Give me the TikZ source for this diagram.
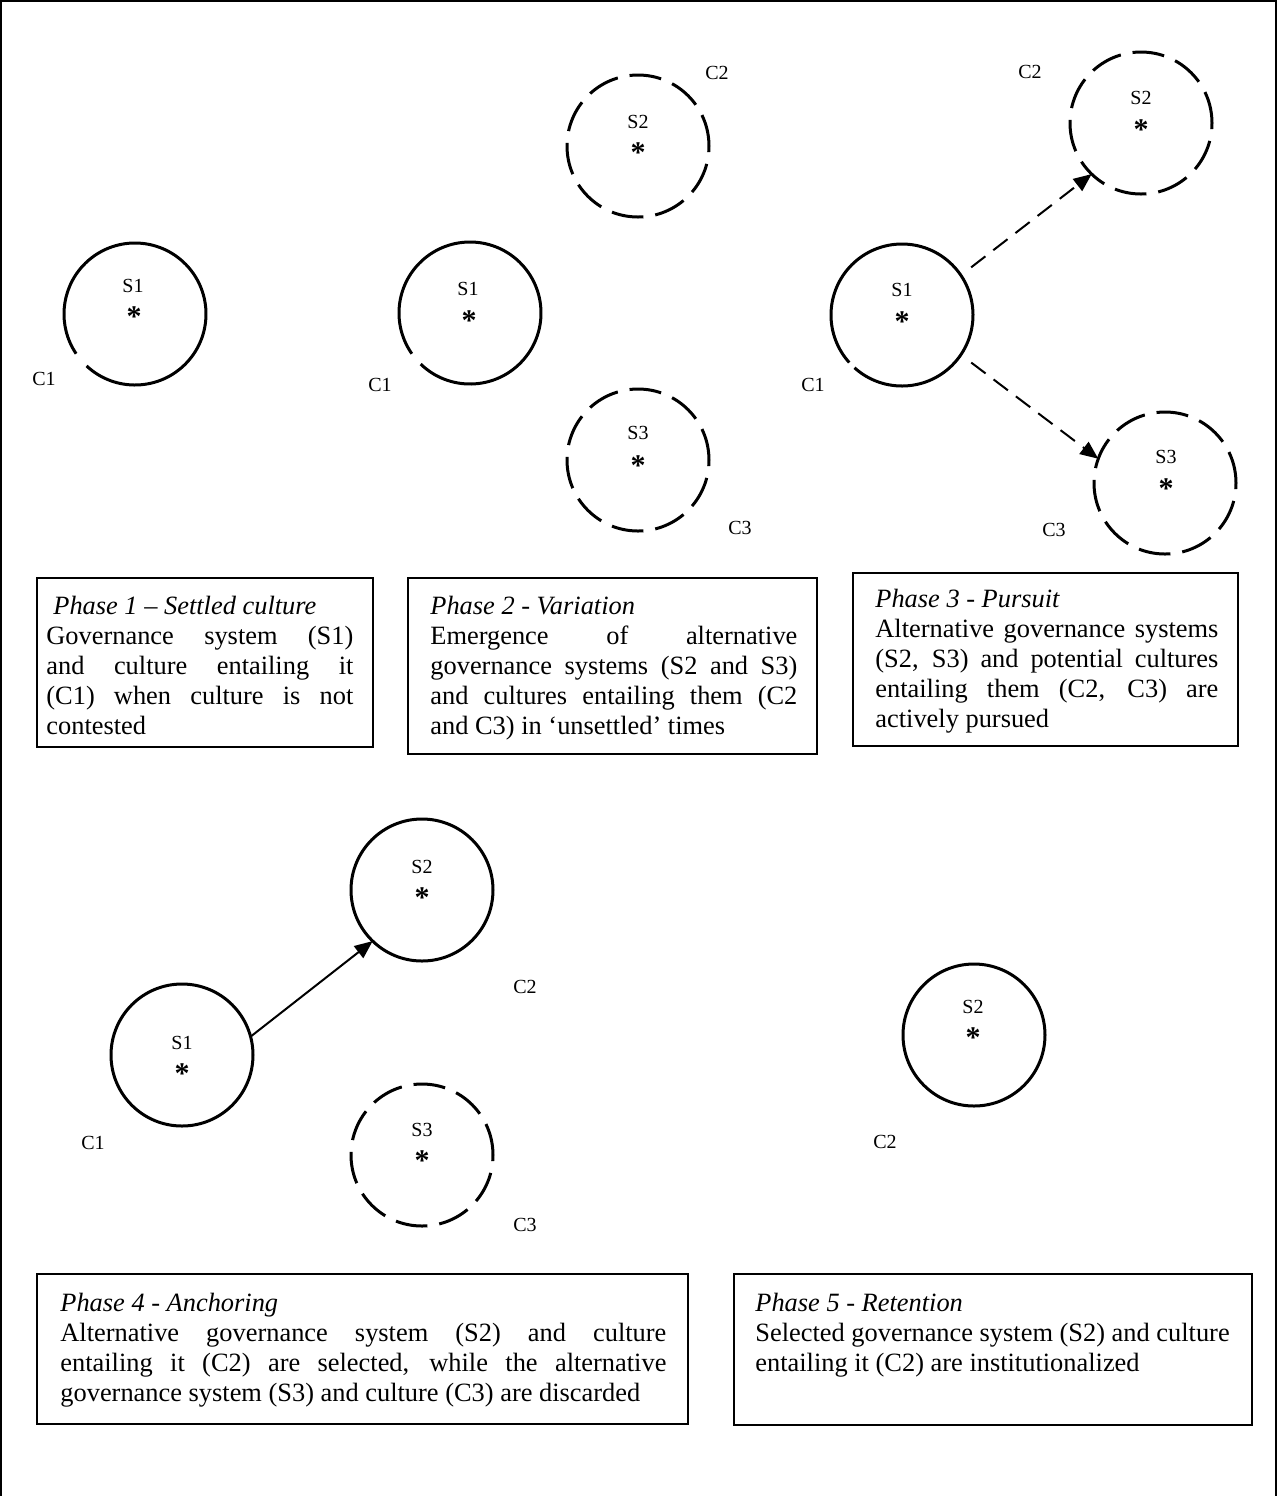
\documentclass[tikz,border=0pt]{standalone}
\usepackage{fontspec}
\setmainfont{Liberation Serif}
\usetikzlibrary{arrows.meta}
\setlength{\parindent}{0pt}
\begin{document}
\begin{tikzpicture}[x=0.5pt,y=-0.5pt,
  solidcirc/.style={circle,draw,line width=1.5pt,minimum size=71pt,inner sep=0pt,outer sep=0pt},
  dashcirc/.style={solidcirc,dash pattern=on 16pt off 6pt},
  gapcirc/.style={circle,minimum size=71pt,inner sep=0pt,outer sep=0pt},
  gaparc/.style={line width=1.5pt},
  slab/.style={font=\fontsize{10}{12}\selectfont,inner sep=0pt},
  clab/.style={font=\fontsize{10}{12}\selectfont,inner sep=0pt},
  astx/.style={font=\fontsize{15}{15}\selectfont\bfseries,inner sep=0pt,anchor=base},
  pbox/.style={draw,line width=1.2pt},
  ptext/.style={inner sep=0pt,anchor=north west,align=justify,font=\fontsize{13.2}{15}\selectfont},
  conn/.style={line width=1pt,-{Triangle[length=9pt,width=7.5pt]}},
  dconn/.style={conn,dash pattern=on 9pt off 5pt},
]
\useasboundingbox (0,0) rectangle (1277,1496);
% outer frame
\draw[line width=1pt] (1,1496) -- (1,1) -- (1276,1) -- (1276,1496);

% ---------- Phase 1 ----------
\node[gapcirc] (p1s1) at (135,314) {};
\draw[gaparc] (p1s1.227) arc[start angle=227, end angle=574, radius=35.5pt];
\node[slab] (p1s1l) at (133,286) {S1};
\node[astx] (p1s1a) at (134,326) {*};
\node[clab] (p1c1) at (44,379) {C1};

% ---------- Phase 2 ----------
\node[gapcirc] (p2s1) at (470,313) {};
\draw[gaparc] (p2s1.226) arc[start angle=226, end angle=575, radius=35.5pt];
\node[slab] (p2s1l) at (468,289) {S1};
\node[astx] (p2s1a) at (469,330) {*};
\node[clab] (p2c1) at (380,385) {C1};
\node[dashcirc] (p2s2) at (638,146) {};
\node[slab] (p2s2l) at (638,122) {S2};
\node[astx] (p2s2a) at (638,162) {*};
\node[clab] (p2c2) at (717,73) {C2};
\node[dashcirc] (p2s3) at (638,460) {};
\node[slab] (p2s3l) at (638,433) {S3};
\node[astx] (p2s3a) at (638,475) {*};
\node[clab] (p2c3) at (740,528) {C3};

% ---------- Phase 3 ----------
\node[gapcirc] (p3s1) at (902,315) {};
\draw[gaparc] (p3s1.228) arc[start angle=228, end angle=582, radius=35.5pt];
\node[slab] (p3s1l) at (902,290) {S1};
\node[astx] (p3s1a) at (902,331) {*};
\node[clab] (p3c1) at (813,385) {C1};
\node[dashcirc] (p3s2) at (1141,123) {};
\node[slab] (p3s2l) at (1141,98) {S2};
\node[astx] (p3s2a) at (1141,139) {*};
\node[clab] (p3c2) at (1030,72) {C2};
\node[dashcirc] (p3s3) at (1165,483) {};
\node[slab] (p3s3l) at (1166,457) {S3};
\node[astx] (p3s3a) at (1166,498) {*};
\node[clab] (p3c3) at (1054,530) {C3};
\draw[dconn, shorten <=6.5pt] (p3s1.34) -- (p3s2.226);
\draw[dconn, shorten <=6.5pt] (p3s1.-34) -- (p3s3.160);

% ---------- Phase 4 ----------
\node[solidcirc] (p4s1) at (182,1055) {};
\node[slab] (p4s1l) at (182,1043) {S1};
\node[astx] (p4s1a) at (182,1083) {*};
\node[clab] (p4c1) at (93,1143) {C1};
\node[solidcirc] (p4s2) at (422,890) {};
\node[slab] (p4s2l) at (422,867) {S2};
\node[astx] (p4s2a) at (422,907) {*};
\node[clab] (p4c2) at (525,987) {C2};
\node[dashcirc] (p4s3) at (422,1155) {};
\node[slab] (p4s3l) at (422,1130) {S3};
\node[astx] (p4s3a) at (422,1170) {*};
\node[clab] (p4c3) at (525,1225) {C3};
\draw[conn] (p4s1.15) -- (p4s2.226);

% ---------- Phase 5 ----------
\node[solidcirc] (p5s2) at (974,1035) {};
\node[slab] (p5s2l) at (973,1007) {S2};
\node[astx] (p5s2a) at (973,1047) {*};
\node[clab] (p5c2) at (885,1142) {C2};

% ---------- Text boxes ----------
\draw[pbox] (37,578) rectangle (373,747);
\node[ptext, text width=153.5pt] (t1) at (46,593)
  {\strut\hspace*{3.5pt}\textit{Phase 1 – Settled culture}\par
   Governance system (S1)\linebreak and culture entailing it\linebreak (C1) when culture is not\linebreak contested};

\draw[pbox] (408,578) rectangle (817,754);
\node[ptext, text width=183.5pt] (t2) at (430,593)
  {\strut\textit{Phase 2 - Variation}\par
   Emergence of alternative\linebreak governance systems (S2 and S3)\linebreak and cultures entailing them (C2\linebreak and C3) in ‘unsettled’ times};

\draw[pbox] (853,573) rectangle (1238,746);
\node[ptext, text width=171.5pt] (t3) at (875,586)
  {\strut\textit{Phase 3 - Pursuit}\par
   Alternative governance systems\linebreak (S2, S3) and potential cultures\linebreak entailing them (C2, C3) are\linebreak actively pursued};

\draw[pbox] (37,1274) rectangle (688,1424);
\node[ptext, text width=303pt] (t4) at (60,1290)
  {\strut\textit{Phase 4 - Anchoring}\par
   Alternative governance system (S2) and culture\linebreak entailing it (C2) are selected, while the alternative\linebreak governance system (S3) and culture (C3) are discarded};

\draw[pbox] (734,1274) rectangle (1252,1425);
\node[ptext, text width=248pt] (t5) at (755,1290)
  {\strut\textit{Phase 5 - Retention}\par
   Selected governance system (S2) and culture\par
   entailing it (C2) are institutionalized};
\end{tikzpicture}
\end{document}
